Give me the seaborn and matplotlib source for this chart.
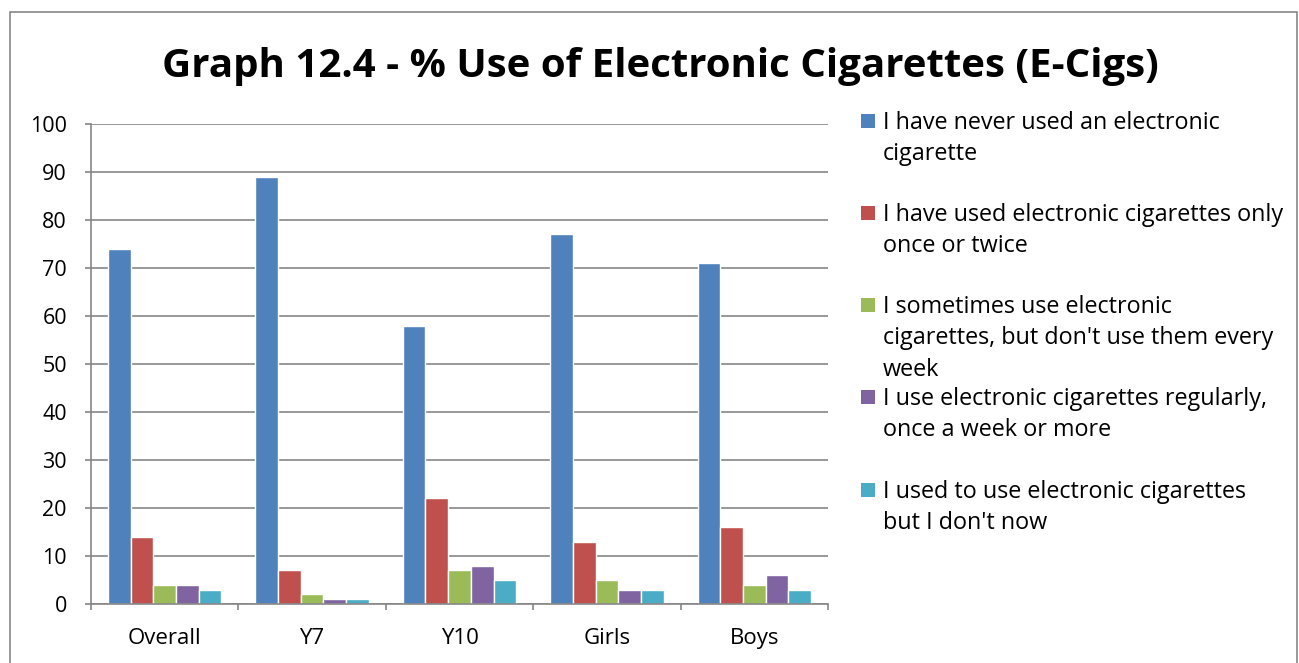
import numpy as np
import pandas as pd
import matplotlib.pyplot as plt
import matplotlib.patches as mpatches
import seaborn as sns

groups = ["Overall", "Y7", "Y10", "Girls", "Boys"]
responses = [
    "I have never used an electronic\ncigarette",
    "I have used electronic cigarettes only\nonce or twice",
    "I sometimes use electronic\ncigarettes, but don't use them every\nweek",
    "I use electronic cigarettes regularly,\nonce a week or more",
    "I used to use electronic cigarettes\nbut I don't now",
]
never_used = [74, 89, 58, 77, 71]
once_twice = [14, 7, 22, 13, 16]
sometimes = [4, 2, 7, 5, 4]
regularly = [4, 1, 8, 3, 6]
used_to = [3, 1, 5, 3, 3]
colors = ["#4F81BD", "#C0504D", "#9BBB59", "#8064A2", "#4BACC6"]

series = [never_used, once_twice, sometimes, regularly, used_to]
rows = []
for resp, vals in zip(responses, series):
    for g, v in zip(groups, vals):
        rows.append({"group": g, "response": resp, "value": v})
df = pd.DataFrame(rows)

sns.set_style("white")
plt.rcParams["font.family"] = ["Open Sans", "DejaVu Sans"]
plt.rcParams["text.color"] = "black"
plt.rcParams["xtick.labelcolor"] = "black"
plt.rcParams["ytick.labelcolor"] = "black"

fig = plt.figure(figsize=(12.99, 6.63), dpi=100)
ax = fig.add_axes([91 / 1299, 1 - 604 / 663, (828 - 91) / 1299, (604 - 124) / 663])

sns.barplot(data=df, x="group", y="value", hue="response", palette=colors,
            width=0.77, saturation=1, gap=0, ax=ax, legend=False)

grid_c = "#868686"
ax.set_ylim(0, 100)
ax.set_xlim(-0.5, 4.5)
ax.set_yticks(range(0, 101, 10))
ax.yaxis.grid(True, color=grid_c, linewidth=1.2)
ax.set_axisbelow(True)
for s in ["top", "right"]:
    ax.spines[s].set_visible(False)
for s in ["left", "bottom"]:
    ax.spines[s].set_color(grid_c)
    ax.spines[s].set_linewidth(1.2)
ax.set_xlabel("")
ax.set_ylabel("")
ax.tick_params(axis="y", left=True, length=4.3, width=1.2, color=grid_c,
               labelsize=15.5, pad=13)
ax.tick_params(axis="x", bottom=False, labelsize=16, pad=14)
ax.set_xticks(np.arange(-0.5, 5, 1.0), minor=True)
ax.tick_params(axis="x", which="minor", bottom=True, length=4.3, width=1.2, color=grid_c)

fig.suptitle("Graph 12.4 - % Use of Electronic Cigarettes (E-Cigs)",
             x=0.508, y=1 - 66 / 663, va="center", fontsize=29, fontweight="bold")

# outer chart frame
fig.patches.append(mpatches.Rectangle((10 / 1299, -0.1), (1297 - 10) / 1299, 0.1 + 1 - 12 / 663,
                                      transform=fig.transFigure, fill=False,
                                      edgecolor="#888888", linewidth=1.2))

# legend drawn by hand, Excel-style evenly spaced entries
tops = [121, 213, 305, 397, 490]
for resp, c, yc in zip(responses, colors, tops):
    fig.patches.append(mpatches.Rectangle((861 / 1299, 1 - (yc + 7) / 663), 14 / 1299, 14 / 663,
                                          transform=fig.transFigure, facecolor=c, edgecolor="none"))
    fig.text(883 / 1299, 1 - (yc - 10) / 663, resp, fontsize=16.8, va="top", ha="left",
             linespacing=1.41)

fig.savefig("out.png", dpi=100)
